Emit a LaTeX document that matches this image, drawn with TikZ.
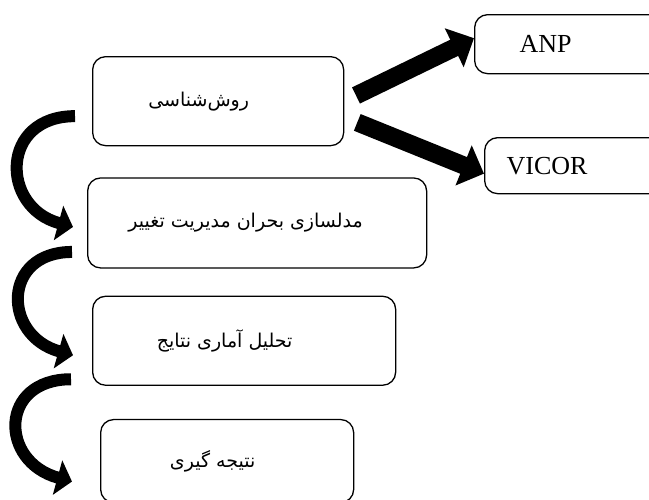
\documentclass[tikz,border=0pt]{standalone}
\usepackage{fontspec}
\setmainfont{Liberation Serif}
\newfontfamily\farsifont[Script=Arabic]{DejaVu Sans}
\TeXXeTstate=1
\usetikzlibrary{arrows.meta,positioning}
\newcommand{\fatext}[1]{{\farsifont\fontsize{19}{24}\selectfont\beginR #1\endR}}

\begin{document}
\begin{tikzpicture}[x=1pt,y=-1pt,every node/.style={shape=rectangle,draw,line width=1.3pt,rounded corners=13pt,font=\fontsize{26}{30}\selectfont},
    fatarrow/.style={line width=18pt,-{Triangle[length=22pt,width=42pt]}},
    curvearrow/.style={line width=12pt,-{Triangle[length=15pt,width=35pt]}}]
    \useasboundingbox (0,0) rectangle (649,499);
    % create the nodes
    \node (meth)[anchor=north west, minimum width=251pt, minimum height=89pt] at (92,56) {\fatext{روش^^^^200cشناسی}\hspace*{39pt}};
    \node (model)[below=31pt of meth.south west, anchor=north west, xshift=-5pt, minimum width=339pt, minimum height=90pt] {\fatext{مدلسازی بحران مدیریت تغییر}\hspace*{23pt}};
    \node (stat)[below=27pt of model.south west, anchor=north west, xshift=5pt, minimum width=303pt, minimum height=89pt] {\fatext{تحلیل آماری نتایج}\hspace*{39pt}};
    \node (concl)[below=33pt of stat.south west, anchor=north west, xshift=8pt, minimum width=253pt, minimum height=83pt] {\fatext{نتیجه گیری}\hspace*{29pt}};
    \node (anp)[anchor=north west, minimum height=59pt, text width=150pt, inner xsep=45pt, align=left] at (474,14) {ANP};
    \node (vicor)[anchor=north west, minimum height=56pt, text width=150pt, inner xsep=22pt, align=left] at (484,137) {VICOR};
    % connect the nodes
    \draw[fatarrow, shorten <=13pt] (meth.east) -- ([yshift=6pt]anp.west);
    \draw[fatarrow, shorten <=14pt] ([yshift=-16pt]meth.east) -- ([yshift=-8pt]vicor.west);
    \draw[curvearrow] ([shift={(-17,15)}]meth.west) .. controls +(-75,0) and +(-73,-20) .. ([shift={(-14,4)}]model.west);
    \draw[curvearrow] ([shift={(-15,29)}]model.west) .. controls +(-70,0) and +(-71,-20) .. ([shift={(-19,14.5)}]stat.west);
    \draw[curvearrow] ([shift={(-21,38.5)}]stat.west) .. controls +(-72,0) and +(-73,-20) .. ([shift={(-28,20.5)}]concl.west);
\end{tikzpicture}
\end{document}
